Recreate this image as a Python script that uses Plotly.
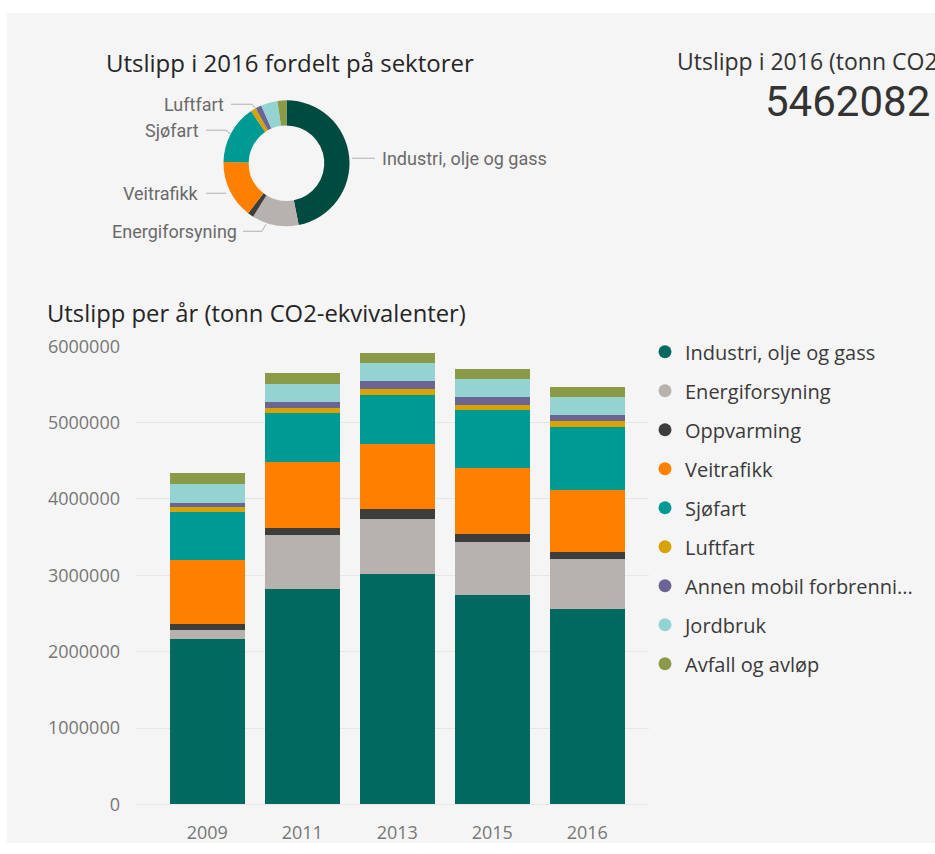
import plotly.graph_objects as go

# ---------------- data ----------------
years = ["2009", "2011", "2013", "2015", "2016"]
sectors = ["Industri, olje og gass", "Energiforsyning", "Oppvarming", "Veitrafikk",
           "Sjøfart", "Luftfart", "Annen mobil forbrenni...", "Jordbruk", "Avfall og avløp"]

industri = [2165000, 2817000, 3022000, 2738000, 2562082]
energiforsyning = [123000, 707000, 721000, 694000, 655000]
oppvarming = [70000, 101000, 131000, 105000, 83000]
veitrafikk = [838000, 859000, 852000, 869000, 812000]
sjofart = [638000, 642000, 642000, 765000, 831000]
luftfart = [60000, 66000, 79000, 66000, 73000]
annen_mobil = [52000, 79000, 100000, 100000, 88000]
jordbruk = [245000, 241000, 228000, 232000, 232000]
avfall = [148000, 144000, 139000, 140000, 126000]

series = [industri, energiforsyning, oppvarming, veitrafikk, sjofart,
          luftfart, annen_mobil, jordbruk, avfall]

y_ticks = [0, 1000000, 2000000, 3000000, 4000000, 5000000, 6000000]
donut_labels_shown = ["Industri, olje og gass", "Energiforsyning", "Veitrafikk", "Sjøfart", "Luftfart"]

# ---------------- styles ----------------
bar_colors = ["#01695f", "#b8b2ae", "#3d3d3b", "#ff7f00", "#009a94",
              "#d8a300", "#6b6595", "#95d3d3", "#8b9a47"]
donut_colors = ["#004b40"] + bar_colors[1:]
W, H = 935, 854
BG = "#f5f5f5"
Y_TOP, Y_SPAN = 12.8, 829.8   # where the page actually shows the figure vertically


def px(x):
    return x / W


def py(y):
    return 1 - (y - Y_TOP) / Y_SPAN


fig = go.Figure()

# stacked bars
for name, vals, col in zip(sectors, series, bar_colors):
    fig.add_trace(go.Bar(x=years, y=vals, name=name, marker=dict(color=col, line=dict(width=0)),
                         showlegend=False, xaxis="x", yaxis="y"))

# legend entries with circular markers
for i, (name, col) in enumerate(zip(sectors, bar_colors)):
    fig.add_trace(go.Scatter(x=[None], y=[None], mode="markers", name=name,
                             marker=dict(color=col, size=13, symbol="circle"),
                             legendgroup=f"g{i}", showlegend=True, xaxis="x", yaxis="y"))

# donut for 2016
vals_2016 = [s[-1] for s in series]
fig.add_trace(go.Pie(labels=sectors, values=vals_2016, hole=0.6, sort=False,
                     direction="clockwise", rotation=0,
                     marker=dict(colors=donut_colors, line=dict(width=0)),
                     textinfo="none", showlegend=False,
                     domain=dict(x=[px(223), px(350)], y=[py(226), py(100)])))

total_2016 = sum(vals_2016)

annotations = [
    dict(text="Utslipp i 2016 fordelt på sektorer", x=px(104), y=py(62), xref="paper", yref="paper",
         xanchor="left", yanchor="middle", showarrow=False,
         font=dict(family="Open Sans", size=24, color="#252525")),
    dict(text="Utslipp i 2016 (tonn CO2-ekvivalenter)", x=px(675), y=py(61), xref="paper", yref="paper",
         xanchor="left", yanchor="middle", showarrow=False,
         font=dict(family="Open Sans", size=23, color="#333333")),
    dict(text=str(total_2016), x=px(932), y=py(101), xref="paper", yref="paper",
         xanchor="right", yanchor="middle", showarrow=False,
         font=dict(family="Roboto", size=42, color="#333333")),
    dict(text="Utslipp per år (tonn CO2-ekvivalenter)", x=px(45), y=py(313), xref="paper", yref="paper",
         xanchor="left", yanchor="middle", showarrow=False,
         font=dict(family="Open Sans", size=23.8, color="#252525")),
]

# donut labels with leader lines
lab_font = dict(family="Roboto", size=18, color="#6a6a6a")
label_pos = {
    "Industri, olje og gass": (380, 158, "left", [(352, 158), (375, 158)]),
    "Energiforsyning": (239, 231, "right", [(243, 231), (262, 231), (266, 224)]),
    "Veitrafikk": (201, 193, "right", [(206, 193), (226, 193)]),
    "Sjøfart": (201, 130, "right", [(206, 130), (226, 130), (231, 134)]),
    "Luftfart": (226, 104, "right", [(231, 104), (252, 104), (257, 110)]),
}
shapes = [dict(type="rect", xref="paper", yref="paper", x0=px(7), x1=1, y0=0, y1=1,
               fillcolor=BG, line=dict(width=0), layer="below")]
for lab in donut_labels_shown:
    tx, ty, anc, pts = label_pos[lab]
    annotations.append(dict(text=lab, x=px(tx), y=py(ty), xref="paper", yref="paper",
                            xanchor=anc, yanchor="middle", showarrow=False, font=lab_font))
    for (a0, b0), (a1, b1) in zip(pts[:-1], pts[1:]):
        shapes.append(dict(type="line", xref="paper", yref="paper", x0=px(a0), y0=py(b0),
                           x1=px(a1), y1=py(b1), line=dict(color="#b0b0b0", width=1)))

fig.update_layout(
    width=W, height=H,
    margin=dict(l=0, r=0, t=0, b=0),
    paper_bgcolor="white", plot_bgcolor="rgba(0,0,0,0)",
    barmode="stack", bargap=0.21,
    xaxis=dict(domain=[px(136), px(649)], type="category", range=[-0.75, 4.65],
               showgrid=False, showline=False, ticks="", zeroline=False,
               ticklabelstandoff=16,
               tickfont=dict(family="Open Sans", size=18, color="#777777")),
    yaxis=dict(domain=[py(804), py(346)], range=[0, 6000000], tickvals=y_ticks,
               tickformat="d", showgrid=True, gridcolor="#e6e6e6", gridwidth=1,
               zeroline=True, zerolinecolor="#e6e6e6", zerolinewidth=1,
               showline=False, ticks="", ticklabelstandoff=15,
               tickfont=dict(family="Open Sans", size=18, color="#777777")),
    legend=dict(x=px(645), y=py(332), xanchor="left", yanchor="top",
                font=dict(family="Open Sans", size=20, color="#3a3a3a"),
                tracegroupgap=10, bgcolor="rgba(0,0,0,0)", itemclick=False),
    annotations=annotations,
    shapes=shapes,
    showlegend=True,
)

fig.write_html("out.html")
